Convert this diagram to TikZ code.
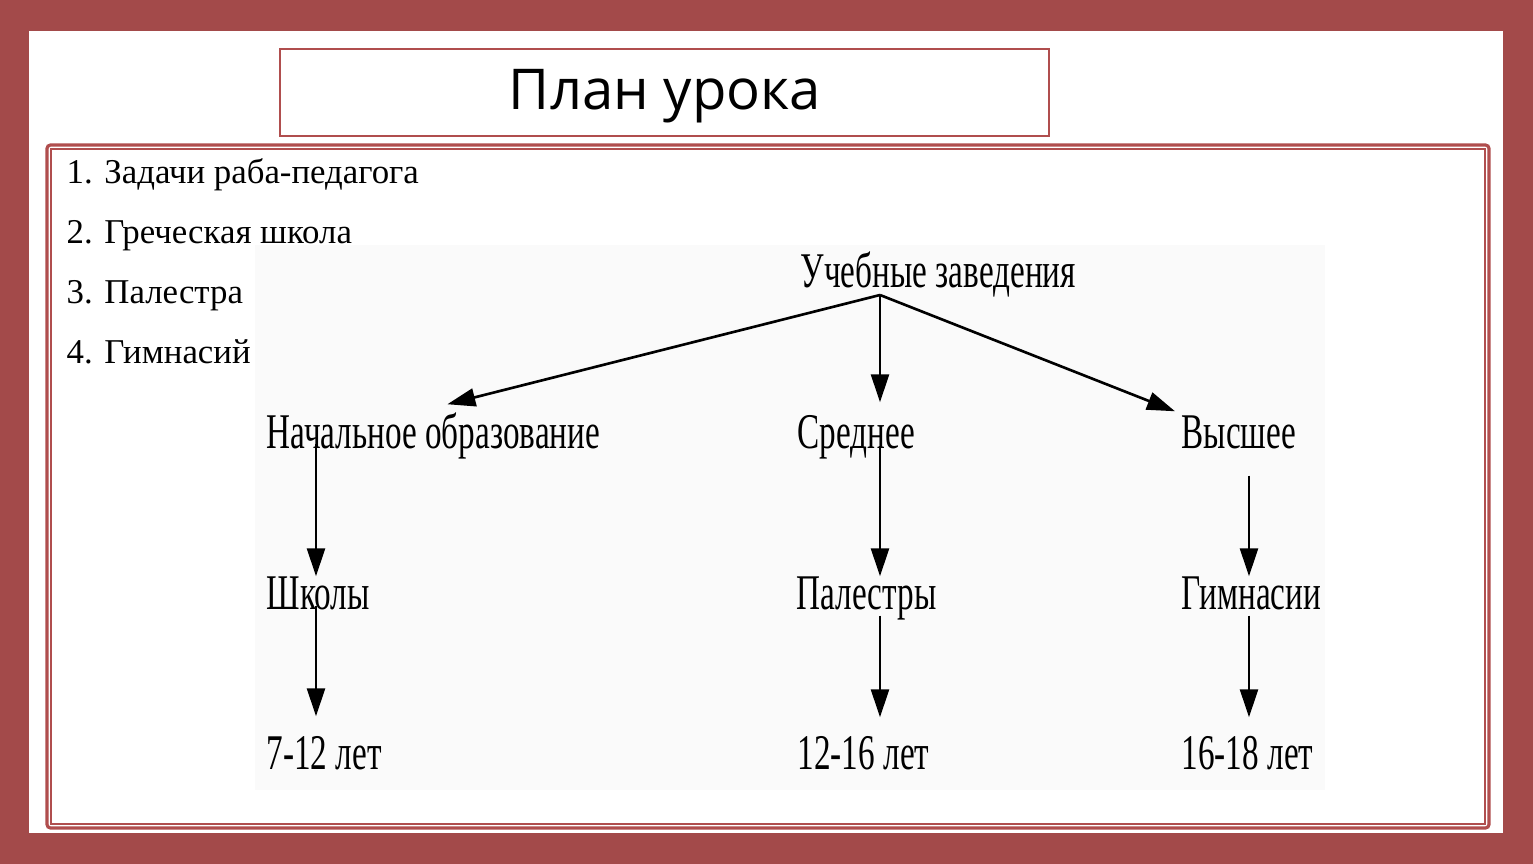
\documentclass[tikz,border=0pt]{standalone}
\usepackage{fontspec}
\setmainfont{Liberation Serif}
\newfontfamily\titlefont{Open Sans}
\newfontfamily\diagfont[FakeStretch=0.665]{Liberation Serif}
\usetikzlibrary{arrows.meta}
\definecolor{slidered}{HTML}{A34A4A}
\definecolor{framered}{HTML}{B04E4E}

\begin{document}
\begin{tikzpicture}[
    x=0.01cm, y=-0.01cm,
    item/.style={anchor=base west, inner sep=0pt, font=\fontsize{9.9pt}{11pt}\selectfont},
    term/.style={anchor=base west, inner sep=0pt, text height=0.33cm, text depth=0.08cm, font=\diagfont\fontsize{14.2pt}{16pt}\selectfont},
    arr/.style={-{Triangle[length=2.8mm, width=1.8mm]}, line width=0.75pt}
    ]

    %Background
    \fill[slidered] (0,0) rectangle (1533,864);
    \fill[white] (29,31) rectangle (1503,833);
    \fill[black!2] (255,245) rectangle (1325,790);

    %Frames
    \draw[framered, line width=0.6pt] (280,49) rectangle (1049,136);
    \draw[framered, line width=0.9pt, rounded corners=1pt] (47,145) rectangle (1489,828);
    \draw[framered, line width=0.6pt] (51,149) rectangle (1485,824);

    %Title and list
    \node[anchor=base, inner sep=0pt, font=\titlefont\fontsize{16pt}{18pt}\selectfont] (title) at (665,110) {План урока};
    \node[item] (i1) at (66,184) {1. Задачи раба-педагога};
    \node[item] (i2) at (66,244) {2. Греческая школа};
    \node[item] (i3) at (66,304) {3. Палестра};
    \node[item] (i4) at (66,364) {4. Гимнасий};

    %Nodes
    \node[term] (uz) at (800,288) {Учебные заведения};
    \node[term] (nach) at (266,449) {Начальное образование};
    \node[term] (sred) at (797,449) {Среднее};
    \node[term] (vys) at (1181,449) {Высшее};
    \node[term] (shk) at (266,610) {Школы};
    \node[term] (pal) at (796,610) {Палестры};
    \node[term] (gim) at (1181,610) {Гимнасии};
    \node[term] (a1) at (266,769) {7-12 лет};
    \node[term] (a2) at (797,769) {12-16 лет};
    \node[term] (a3) at (1181,769) {16-18 лет};

    \coordinate (hub) at (880,295);
    \coordinate (c1) at (316,0);
    \coordinate (c2) at (880,0);
    \coordinate (c3) at (1249,0);

    %Lines
    \draw[arr] (hub) -- ([xshift=1.4mm,yshift=1.1mm]nach.north);
    \draw[arr] (hub) -- ([yshift=1.3mm]sred.north -| hub);
    \draw[arr] (hub) -- ([xshift=-0.6mm,yshift=0.4mm]vys.north west);

    \draw[arr] ([yshift=1.4mm]nach.south -| c1) -- (shk.north -| c1);
    \draw[arr] ([yshift=1.3mm]shk.south -| c1) -- ([yshift=1.9mm]a1.north -| c1);
    \draw[arr] ([yshift=1.2mm]sred.south -| c2) -- (pal.north -| c2);
    \draw[arr] ([yshift=0.3mm]pal.south -| c2) -- ([yshift=1.8mm]a2.north -| c2);
    \draw[arr] ([yshift=-1.8mm]vys.south -| c3) -- (gim.north -| c3);
    \draw[arr] ([yshift=0.3mm]gim.south -| c3) -- ([yshift=1.8mm]a3.north -| c3);
\end{tikzpicture}
\end{document}
